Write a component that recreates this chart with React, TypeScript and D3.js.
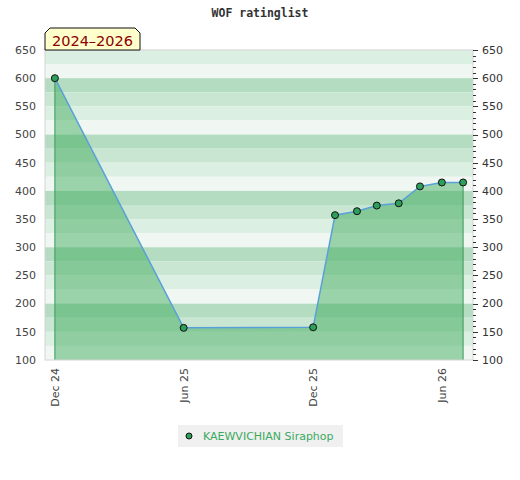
import * as d3 from 'd3';
import React from 'react';

const dates: string[] = [
  '2024-12-01', '2025-06-01', '2025-12-01', '2026-01-01', '2026-02-01',
  '2026-03-01', '2026-04-01', '2026-05-01', '2026-06-01', '2026-07-01',
];
const ratings: number[] = [600, 157, 158, 357, 364, 374, 378, 408, 415, 415];
const xTicks: string[] = ['2024-12-01', '2025-06-01', '2025-12-01', '2026-06-01'];
const yTicks: number[] = [100, 150, 200, 250, 300, 350, 400, 450, 500, 550, 600, 650];
const playerName = 'KAEWVICHIAN Siraphop';
const title = 'WOF ratinglist';
const period = '2024–2026';

const W = 520;
const H = 480;
const left = 45;
const right = 473;
const top = 50;
const bottom = 360;

const parse = d3.utcParse('%Y-%m-%d');
const fmt = d3.utcFormat('%b %y');

// dark, medium, light, very light (repeats every 100 points)
const bandColors = ['#b3dcc1', '#c8e6d2', '#dcefe3', '#f0f7f3'];

const App: React.FC = () => {
  const x = d3
    .scaleUtc()
    .domain([parse('2024-11-17')!, parse('2026-07-15')!])
    .range([left, right]);
  const y = d3.scaleLinear().domain([100, 650]).range([bottom, top]);

  const points = dates.map((d, i) => ({ date: parse(d)!, value: ratings[i] }));

  const line = d3
    .line<{ date: Date; value: number }>()
    .x((d) => x(d.date))
    .y((d) => y(d.value));
  const area = d3
    .area<{ date: Date; value: number }>()
    .x((d) => x(d.date))
    .y0(y(100))
    .y1((d) => y(d.value));

  const bands = d3.range(650, 100, -25);
  const minor = d3.range(100, 651, 10);

  const first = points[0];
  const last = points[points.length - 1];

  return (
    <svg
      width={W}
      height={H}
      viewBox={`0 0 ${W} ${H}`}
      style={{ position: 'absolute', left: 0, top: 0, background: '#fff' }}
    >
      <text
        x={260}
        y={17}
        textAnchor="middle"
        fontFamily="DejaVu Sans Mono"
        fontWeight="bold"
        fontSize={11.5}
        fill="#333"
      >
        {title}
      </text>

      <g className="bands">
        {bands.map((b) => {
          const idx = ((100 - (b % 100)) % 100) / 25;
          return (
            <rect
              key={b}
              x={left}
              y={y(b)}
              width={right - left}
              height={y(b - 25) - y(b)}
              fill={bandColors[idx]}
            />
          );
        })}
      </g>

      <path d={area(points) ?? ''} fill="rgb(60,170,90)" fillOpacity={0.48} />
      <line x1={x(first.date)} x2={x(first.date)} y1={y(first.value)} y2={bottom} stroke="#3a9a5a" strokeWidth={1} />
      <line x1={x(last.date)} x2={x(last.date)} y1={y(last.value)} y2={bottom} stroke="#3a9a5a" strokeWidth={1} />
      <path d={line(points) ?? ''} fill="none" stroke="#5aa0d8" strokeWidth={1.5} />

      <rect x={left} y={top} width={right - left} height={bottom - top} fill="none" stroke="#d4d4d4" strokeWidth={1} />

      {points.map((p, i) => (
        <circle key={i} cx={x(p.date)} cy={y(p.value)} r={3.5} fill="#2e9e5b" stroke="#111" strokeWidth={1} />
      ))}

      <g className="left-axis" fontFamily="DejaVu Sans" fontSize={11} fill="#444">
        {yTicks.map((t) => (
          <text key={t} x={36} y={y(t)} dy="0.35em" textAnchor="end">
            {t}
          </text>
        ))}
      </g>

      <g className="right-axis" fontFamily="DejaVu Sans" fontSize={11} fill="#333">
        {minor.map((t) => (
          <line
            key={t}
            x1={right}
            x2={right + (t % 50 === 0 ? 5 : 3)}
            y1={Math.round(y(t)) + 0.5}
            y2={Math.round(y(t)) + 0.5}
            stroke="#333"
            strokeWidth={1}
          />
        ))}
        {yTicks.map((t) => (
          <text key={t} x={482} y={y(t)} dy="0.35em" textAnchor="start">
            {t}
          </text>
        ))}
      </g>

      <g className="x-axis" fontFamily="DejaVu Sans" fontSize={11} fill="#444">
        {xTicks.map((t) => {
          const px = x(parse(t)!);
          return (
            <text key={t} transform={`translate(${px},368) rotate(-90)`} dy="0.35em" textAnchor="end">
              {fmt(parse(t)!)}
            </text>
          );
        })}
      </g>

      <polygon
        points={`${left},${top} ${left},33 50,28 135,28 140,33 140,${top}`}
        fill="#ffffcc"
        stroke="#111"
        strokeWidth={1}
      />
      <text x={92.5} y={45.5} textAnchor="middle" fontFamily="DejaVu Sans" fontSize={14.5} fill="#8b0000">
        {period}
      </text>

      <g className="legend">
        <rect x={178} y={425} width={165} height={22} fill="#f0f0f0" />
        <circle cx={189} cy={436} r={3} fill="#2e9e5b" stroke="#111" strokeWidth={1} />
        <text x={203} y={436} dy="0.35em" fontFamily="DejaVu Sans" fontSize={11} fill="#3aaa5f">
          {playerName}
        </text>
      </g>
    </svg>
  );
};

export default App;
